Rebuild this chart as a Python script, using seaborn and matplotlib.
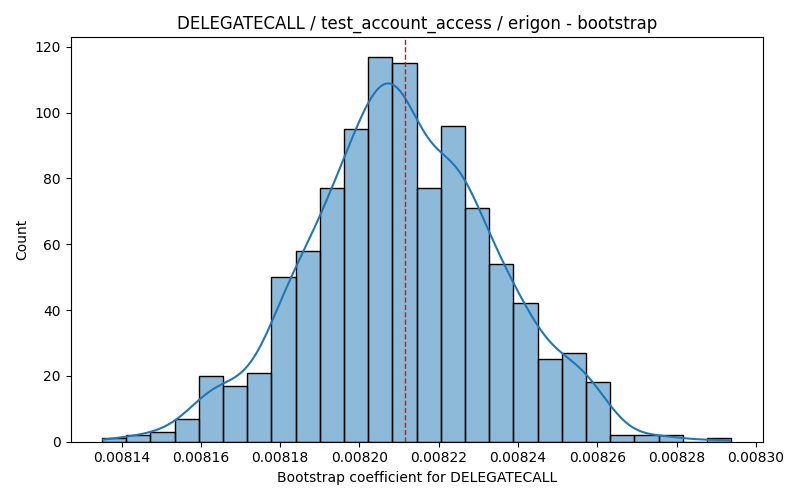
import numpy as np
import matplotlib
matplotlib.use("Agg")
import matplotlib.pyplot as plt
import seaborn as sns

# Bootstrap histogram (26 bins)
bin_lo = 0.0081351
bin_hi = 0.0082938
counts = [1, 2, 3, 7, 20, 17, 21, 50, 58, 77, 95, 117, 115,
          77, 96, 71, 54, 42, 25, 27, 18, 2, 2, 2, 0, 1]
mean_coef = 0.0082115

title = "DELEGATECALL / test_account_access / erigon - bootstrap"
xlabel = "Bootstrap coefficient for DELEGATECALL"

edges = np.linspace(bin_lo, bin_hi, len(counts) + 1)
centers = (edges[:-1] + edges[1:]) / 2
samples = np.repeat(centers, counts)

fig, ax = plt.subplots(figsize=(8, 5), dpi=100)
sns.histplot(x=samples, bins=edges, kde=True, edgecolor="black",
             kde_kws={"cut": 0.5, "bw_adjust": 0.95}, ax=ax)
ax.axvline(mean_coef, color="red", linestyle="--", linewidth=1)

ax.set_title(title)
ax.set_xlabel(xlabel)
ax.set_ylabel("Count")

plt.tight_layout()
plt.savefig("out.png", dpi=100)
plt.close()
